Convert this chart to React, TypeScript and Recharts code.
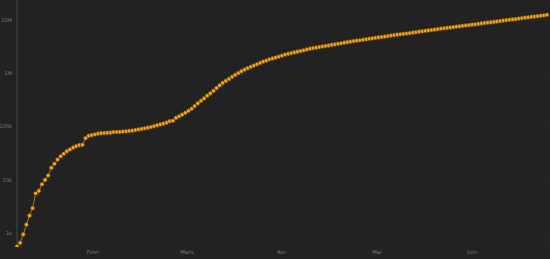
import { CartesianGrid, Line, LineChart, XAxis, YAxis } from "recharts";

// Cumulative confirmed cases, one value per day starting 2020-01-22
const START = "2020-01-22";
const cases = [
  555, 654, 941, 1434, 2118, 2927, 5578, 6166, 8234, 9927,
  12038, 16787, 19887, 23898, 27643, 30802, 34395, 37129, 40160, 42769,
  44811, 45229, 60381, 66909, 69052, 71235, 73270, 75152, 75652, 76212,
  76841, 78602, 78982, 79546, 80399, 81376, 82738, 84122, 86011, 88369,
  90306, 92840, 95120, 97886, 101801, 105847, 109821, 113590, 118620, 125875,
  128352, 145205, 156101, 167454, 181574, 197102, 214821, 242570, 272208, 304507,
  336953, 378235, 418045, 467653, 529591, 593291, 660693, 720140, 782389, 857487,
  932605, 1013466, 1095917, 1176060, 1249754, 1321481, 1396476, 1480202, 1565278, 1657526,
  1735650, 1834721, 1904838, 1976191, 2056054, 2152437, 2240190, 2317758, 2401378, 2472259,
  2549294, 2623960, 2708885, 2811193, 2896746, 2971669, 3041764, 3116398, 3193886, 3256846,
  3343777, 3427584, 3506729, 3583055, 3662691, 3755341, 3845718, 3938064, 4024009, 4101699,
  4177504, 4261747, 4347018, 4442163, 4542347, 4634068, 4713620, 4801943, 4897492, 4996472,
  5102424, 5210817, 5310362, 5407613, 5495061, 5589626, 5691790, 5808946, 5930096, 6059017,
  6166946, 6265852, 6386426, 6508635, 6632985, 6764425, 6891208, 7005740, 7113041, 7240214,
  7378958, 7519176, 7645888, 7780155, 7910357, 8041787, 8183799, 8324143, 8466978, 8647784,
  8805336, 8933875, 9071253, 9237071, 9408254, 9586141, 9777487, 9955448, 10117538, 10275799,
  10449697, 10667386, 10875091, 11078585, 11272152, 11454847, 11622190, 11833034, 12044836, 12273161,
  12507849,
];

const monthStarts = ["2020-02-01", "2020-03-01", "2020-04-01", "2020-05-01", "2020-06-01", "2020-07-01"];
const monthLabels = ["Févr.", "Mars", "Avr.", "Mai", "Juin"];
const yTicks = [1e3, 1e4, 1e5, 1e6, 1e7];

const DAY = 86400000;
const dayOf = (iso: string) => Math.round((Date.parse(iso) - Date.parse(START)) / DAY);

const data = cases.map((v, i) => ({ day: i, cases: v }));
const monthTicks = monthStarts.map(dayOf);
const labelTicks = monthLabels.map((_, i) => (monthTicks[i] + monthTicks[i + 1]) / 2);

const fmtY = (v: number) => (v >= 1e6 ? `${v / 1e6}M` : v >= 1e3 ? `${v / 1e3}k` : `${v}`);

const tickStyle = { fill: "#7a7a7a", fontSize: 5, fontFamily: "DejaVu Sans" };

function Dot({ cx, cy }: any) {
  if (cx == null || cy == null) return null;
  return <circle cx={cx} cy={cy} r={2.1} fill="#f4a51c" stroke="#4a3406" strokeWidth={0.6} />;
}

export default function App() {
  return (
    <div style={{ position: "absolute", left: 0, top: 0, width: 550, height: 259, background: "#222222" }}>
      <LineChart width={550} height={259} data={data} margin={{ top: 0, right: 3, bottom: 0, left: 0 }}>
        <CartesianGrid xAxisId="m" stroke="#353535" strokeDasharray="1 3" />
        <XAxis
          xAxisId="m"
          dataKey="day"
          type="number"
          domain={[0, cases.length - 1]}
          ticks={monthTicks}
          tick={false}
          tickSize={3}
          height={0}
          stroke="#4a4a4a"
          axisLine={{ stroke: "#444" }}
        />
        <XAxis
          xAxisId="l"
          dataKey="day"
          type="number"
          domain={[0, cases.length - 1]}
          ticks={labelTicks}
          tickFormatter={(v: number) => monthLabels[labelTicks.indexOf(v)] ?? ""}
          axisLine={false}
          tickLine={false}
          tickSize={0}
          tickMargin={3}
          height={12}
          tick={{ ...tickStyle, fontSize: 5.5 }}
        />
        <YAxis
          scale="log"
          domain={[546, 2.38e7]}
          allowDataOverflow
          ticks={yTicks}
          tickFormatter={fmtY}
          width={17}
          tickLine={false}
          tickSize={0}
          tickMargin={5}
          axisLine={{ stroke: "#444" }}
          tick={tickStyle}
        />
        <Line
          xAxisId="m"
          dataKey="cases"
          stroke="#b07a1a"
          strokeWidth={1}
          dot={<Dot />}
          activeDot={false}
          isAnimationActive={false}
        />
      </LineChart>
    </div>
  );
}
